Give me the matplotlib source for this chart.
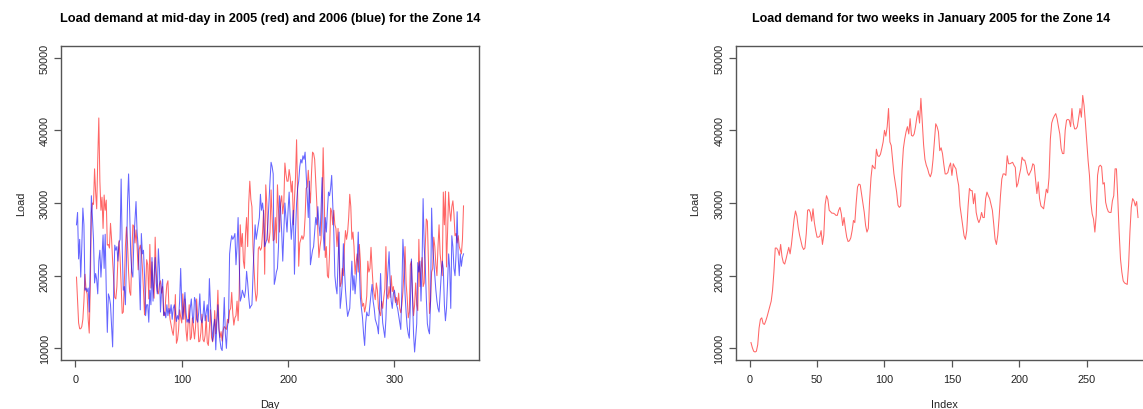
import numpy as np
import matplotlib
matplotlib.use('Agg')
import matplotlib.pyplot as plt

plt.rcParams['font.family'] = ['Liberation Sans', 'DejaVu Sans']

# mid-day load, 2005 (red) and 2006 (blue), one value per day
load_2005 = [
    19800, 16800, 13500, 12700, 12700, 13000, 14000, 16500, 20200, 18000,
    17500, 14000, 12100, 18500, 28700, 30000, 29800, 34700, 31500, 29200,
    36000, 41700, 33000, 29000, 30800, 26500, 31100, 29000, 30400, 24200,
    24300, 23800, 27200, 25000, 22000, 19500, 17000, 16800, 18500, 22500,
    24800, 22500, 18500, 14800, 15000, 19000, 24000, 26700, 24500, 20500,
    17800, 17300, 22500, 27000, 26800, 24500, 26300, 24000, 20800, 23600,
    24200, 23300, 21000, 18000, 14600, 17800, 22200, 21500, 16800, 24300,
    18300, 21900, 18500, 16900, 25300, 20600, 17900, 17500, 18800, 19300,
    17600, 18500, 14600, 14500, 17000, 18800, 19300, 15500, 14000, 13200,
    12400, 11800, 13500, 17400, 10700, 11200, 12500, 15300, 14300, 13500,
    17500, 14000, 16800, 12500, 11000, 13600, 16000, 11200, 11500, 14200,
    12800, 11300, 13000, 16800, 14000, 10900, 11000, 12200, 14700, 11200,
    10900, 11800, 14500, 10800, 10400, 12700, 15300, 11500, 10900, 11800,
    15200, 12000, 14100, 18000, 12800, 11500, 12300, 11000, 12500, 13000,
    12800, 12600, 14000, 13500, 15200, 15500, 17700, 14800, 13200, 14200,
    14500, 16500, 13800, 17500, 27000, 24000, 25800, 22000, 21000, 25800,
    28000, 24000, 30000, 33000, 30500, 29500, 24000, 21000, 18000, 16500,
    17500, 23700, 24000, 23500, 23800, 26000, 29000, 20200, 32500, 30000,
    25000, 24500, 26000, 31800, 28000, 24800, 25000, 28000, 24500, 32500,
    29000, 26000, 30000, 31000, 28500, 30000, 35500, 34000, 33000, 33000,
    34600, 33500, 31500, 33000, 27000, 30500, 33500, 38700, 31000, 21300,
    24500, 25000, 25500, 25000, 25500, 28000, 32000, 32200, 34500, 32000,
    30000, 34000, 37000, 36800, 36000, 33000, 30000, 26000, 22500, 24000,
    25000, 30000, 37600, 31000, 22500, 24000, 20000, 19700, 23000, 29300,
    28800, 27000, 29000, 27000, 26500, 24000, 26500, 22000, 18500, 19000,
    21000, 20000, 24000, 26200, 25000, 26000, 28000, 31200, 29500, 25000,
    26000, 24000, 20200, 21800, 23000, 20500, 24300, 22000, 17000, 15800,
    16200, 15000, 15800, 17200, 22000, 20500, 21000, 23900, 21000, 18500,
    17500, 16700, 19000, 18000, 15500, 15000, 14500, 16500, 15500, 17000,
    18200, 24000, 17500, 16800, 18500, 17000, 20000, 17800, 18500, 17200,
    16300, 17000, 16000, 17600, 15500, 14900, 16000, 17800, 20500, 24000,
    19000, 17000, 14200, 15000, 21500, 22000, 17500, 14500, 16000, 19000,
    16000, 15200, 25000, 18500, 21000, 22500, 18500, 19000, 24000, 27800,
    27500, 22000, 14800, 16500, 20500, 21000, 25300, 24000, 21500, 20000,
    24000, 27000, 23000, 21500, 20000, 31500, 27000, 31600, 21200, 26000,
    31500, 29000, 27500, 29500, 30300, 28500, 25500, 25800, 24500, 25500,
    24000, 23500, 23000, 25000, 29600,
]

load_2006 = [
    27000, 28700, 22300, 25000, 19800, 24000, 29300, 27000, 18000, 18300,
    17800, 18300, 15000, 22000, 31000, 28000, 25000, 19000, 20300, 19500,
    17500, 22000, 23500, 19800, 22500, 25600, 21000, 25700, 18000, 12200,
    17500, 17000, 16000, 13000, 10200, 18000, 24200, 23500, 24000, 22000,
    24500, 25000, 33300, 24000, 18000, 18500, 16000, 22000, 30000, 34000,
    29000, 23000, 20500, 19800, 25000, 27500, 30200, 26000, 24000, 20000,
    15300, 25800, 23000, 23500, 20000, 14500, 16000, 16000, 13600, 18000,
    16000, 22500, 16500, 20000, 22500, 19000, 17500, 23700, 21000, 15000,
    18000, 19500, 14500, 15000, 14200, 16000, 14500, 15500, 14800, 16000,
    14000, 15500, 16000, 15000, 13700, 14500, 14000, 16500, 21000, 16000,
    14000, 16000, 17700, 15000, 13600, 14000, 13500, 15500, 16800, 14500,
    13500, 17000, 16500, 14000, 13600, 15000, 17500, 14000, 13500, 14500,
    16500, 13800, 15000, 16000, 13700, 19600, 16000, 13500, 11000, 13000,
    14000, 9800, 13500, 16000, 12500, 11000, 10000, 9700, 13000, 17000,
    12000, 10000, 13000, 14000, 23000, 24500, 25500, 25000, 25300, 25800,
    21500, 24000, 28000, 22000, 16500, 17000, 18000, 17500, 17000, 18000,
    20600, 19000, 17000, 15500, 15800, 16000, 20000, 24000, 27000, 25000,
    26000, 27000, 28000, 31200, 29000, 30000, 28500, 24000, 24500, 25000,
    27000, 30000, 33000, 35600, 35000, 34000, 18800, 19500, 20500, 21000,
    24000, 31000, 29000, 26000, 22000, 26000, 30000, 28000, 26000, 29000,
    31500, 28000, 25000, 27000, 29000, 20200, 26000, 30000, 32000, 33000,
    35000, 36000, 35500, 36500, 36000, 37000, 34000, 31000, 28000, 33000,
    21500, 22500, 23500, 24000, 26000, 28000, 27000, 29500, 27000, 25500,
    29000, 33500, 26000, 23500, 28000, 26000, 29000, 31500, 31000, 32000,
    33800, 30000, 26000, 20000, 18500, 17500, 22000, 26000, 15500, 17000,
    19000, 24400, 21000, 18000, 16000, 14400, 15000, 15500, 19000, 22000,
    18000, 20000, 17500, 19500, 22000, 26000, 21000, 17000, 15500, 14200,
    12000, 10400, 13500, 15000, 14500, 14500, 16000, 17500, 18800, 16500,
    15500, 14000, 13500, 13000, 12000, 16000, 20300, 16000, 13500, 12500,
    11500, 14000, 18500, 21000, 23300, 19000, 16500, 15500, 17500, 18000,
    17000, 16000, 15500, 14500, 13500, 12600, 18000, 25000, 22000, 17500,
    15000, 13000, 12000, 11400, 16000, 22300, 17000, 12000, 9500, 11500,
    13400, 21800, 20500, 22000, 16500, 21500, 30600, 24000, 21500, 17000,
    13400, 12500, 12000, 16500, 29300, 24000, 22000, 20000, 18000, 16500,
    15500, 15000, 17500, 20000, 22000, 21000, 16000, 13800, 15500, 19000,
    23000, 21000, 15500, 25500, 24000, 21000, 20000, 23000, 28800, 22500,
    20000, 23000, 21300, 22500, 23000,
]

# two weeks of January 2005, plotted against the sample index
load_jan = [
    10800, 10100, 9600, 9500, 9600, 10500, 12800, 14000, 14200, 13400,
    13300, 13800, 14400, 15100, 15800, 16500, 18000, 20500, 23800, 23800,
    23500, 22800, 24300, 22600, 21800, 21600, 22300, 23100, 23900, 23000,
    24300, 26000, 27800, 28900, 28200, 26700, 25600, 24800, 24000, 23600,
    23800, 25800, 29000, 29100, 28700, 27500, 29200, 27300, 26200, 25300,
    25300, 25400, 26200, 24300, 25600, 29800, 31000, 30500, 29000, 28800,
    28600, 28600, 28500, 28300, 28300, 29000, 29400, 28500, 26900, 28000,
    26500, 25300, 24700, 24800, 25200, 26200, 27600, 27300, 30000, 32200,
    32600, 32500, 31200, 30000, 28700, 26900, 26000, 26500, 30500, 33500,
    35200, 34900, 34700, 37400, 36500, 36400, 36700, 37500, 38400, 40000,
    39200, 40500, 43000, 38400, 37900, 36000, 34000, 32800, 31500, 29700,
    29400, 29600, 34500, 37500, 38800, 39800, 40500, 39500, 41600, 39300,
    39200, 39500, 40500, 41800, 42700, 41000, 44400, 41200, 38000, 36000,
    35200, 34700, 34000, 33600, 34200, 36000, 38400, 40900, 40500, 39800,
    37200, 37600, 36800, 35300, 34000, 34000, 34200, 35000, 35500, 33800,
    35400, 35000, 34700, 33400, 32400, 29600, 28200, 26900, 25500, 25000,
    26200, 29600, 32000, 31700, 31700, 29900, 31300, 28700, 27800, 27300,
    27800, 28700, 28000, 28000, 30600, 31500, 31000, 30600, 29800, 29000,
    27100, 25000, 24300, 25600, 28000, 31000, 33300, 34000, 34000, 33800,
    36500, 35400, 35400, 35500, 35600, 35200, 34900, 32200, 32700, 33800,
    34700, 36300, 35900, 35900, 35200, 34200, 33800, 34200, 34600, 35400,
    35200, 33300, 31300, 32900, 30600, 29600, 29400, 29200, 30600, 31900,
    31400, 33500, 38800, 41000, 41600, 42000, 42300, 41600, 40500, 39500,
    37500, 36800, 36800, 40000, 41400, 41500, 41400, 40500, 43000, 41000,
    40200, 40200, 40500, 41800, 43000, 41800, 44800, 43400, 41000, 38400,
    35800, 33800, 30100, 28500, 27800, 26000, 28300, 33800, 35000, 35200,
    35000, 32600, 32800, 30100, 29300, 28800, 28700, 28700, 30300, 31000,
    34700, 34700, 30600, 26000, 22300, 20500, 19300, 19000, 18900, 18800,
    21400, 26000, 29400, 30600, 30300, 29600, 30200, 28000,
]

days = np.arange(1, len(load_2005) + 1)
days_b = np.arange(1, len(load_2006) + 1)
idx = np.arange(1, len(load_jan) + 1)

fig = plt.figure(figsize=(11.43, 4.10), dpi=100)
W, H = 1143.0, 410.0
ax1 = fig.add_axes([61 / W, 49 / H, 418 / W, 314 / H])
ax2 = fig.add_axes([735.5 / W, 49 / H, 418 / W, 314 / H])  # runs off the right edge

TICK_FS = 7.8


def r_style(ax, n):
    pad = 0.04 * (n - 1)
    ax.set_xlim(1 - pad, n + pad)
    ax.set_ylim(10000 - 1600, 50000 + 1600)
    ax.set_yticks([10000, 20000, 30000, 40000, 50000])
    for s in ax.spines.values():
        s.set_color('#555555')
        s.set_linewidth(1.0)
    ax.tick_params(axis='both', direction='out', length=5, width=0.9,
                   color='#555555', labelsize=TICK_FS, labelcolor='#222222')
    ax.tick_params(axis='x', pad=5)
    ax.tick_params(axis='y', pad=3)
    for lab in ax.get_yticklabels():
        lab.set_rotation(90)
        lab.set_va('center')


ax1.plot(days, load_2005, color='red', lw=0.75, alpha=0.6)
ax1.plot(days_b, load_2006, color='blue', lw=0.75, alpha=0.6)
r_style(ax1, len(load_2005))
ax1.set_xticks([0, 100, 200, 300])
ax1.set_xlabel('Day', fontsize=TICK_FS, color='#222222', labelpad=11)
ax1.set_ylabel('Load', fontsize=TICK_FS, color='#222222', labelpad=10)
ax1.set_title('Load demand at mid-day in 2005 (red) and 2006 (blue) for the Zone 14',
              fontsize=9.2, fontweight='bold', pad=18)

ax2.plot(idx, load_jan, color='red', lw=0.75, alpha=0.6)
r_style(ax2, len(load_jan))
ax2.set_xticks([0, 50, 100, 150, 200, 250])
ax2.set_xlabel('Index', fontsize=TICK_FS, color='#222222', labelpad=11)
ax2.set_ylabel('Load', fontsize=TICK_FS, color='#222222', labelpad=10)
ax2.set_title('Load demand for two weeks in January 2005 for the Zone 14',
              fontsize=9.0, fontweight='bold', pad=18, x=0.4677)

fig.savefig('out.png', dpi=100)
